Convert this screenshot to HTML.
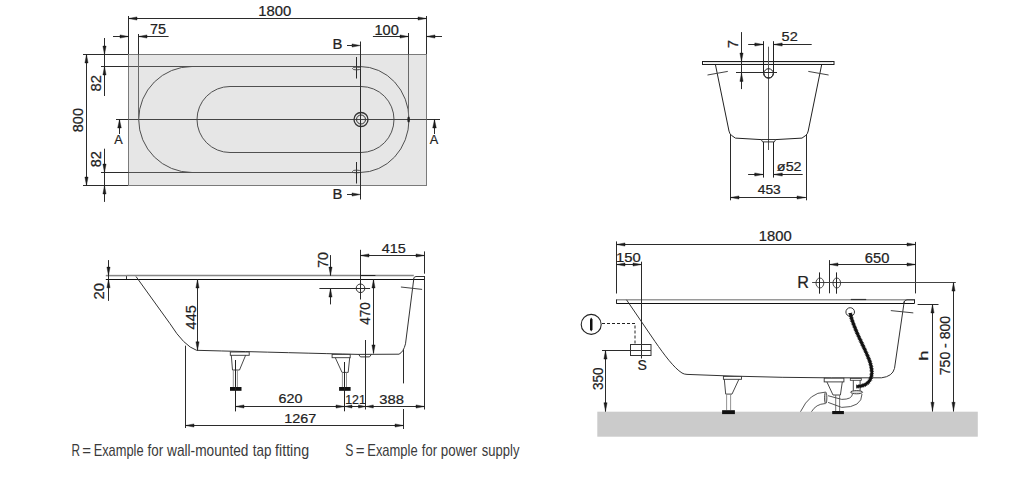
<!DOCTYPE html>
<html><head><meta charset="utf-8"><style>
html,body{margin:0;padding:0;background:#fff;}
svg{display:block;font-family:"Liberation Sans",sans-serif;font-kerning:none;}
</style></head><body>
<svg width="1024" height="488" viewBox="0 0 1024 488">
<rect width="1024" height="488" fill="#fff"/>
<rect x="128.5" y="54.5" width="298" height="131" fill="#e6e6e6" stroke="#7a7a7a" stroke-width="1" />
<path d="M128.5,66.5 L360,66.5 A49,53 0 0 1 409,119.5 A49,53 0 0 1 360,172.5 L128.5,172.5 M192,66.5 A53.3,53 0 0 0 138.7,119.5 A53.3,53 0 0 0 192,172.5" stroke="#505050" stroke-width="1" fill="none" />
<line x1="101" y1="66.5" x2="128.5" y2="66.5" stroke="#2b2b2b" stroke-width="1" />
<line x1="101" y1="172.5" x2="128.5" y2="172.5" stroke="#2b2b2b" stroke-width="1" />
<path d="M230,86.5 L361,86.5 A33,33 0 0 1 394,119.5 A33,33 0 0 1 361,152.5 L230,152.5 A33,33 0 0 1 197,119.5 A33,33 0 0 1 230,86.5 Z" stroke="#505050" stroke-width="1" fill="none" />
<line x1="129" y1="119.5" x2="426" y2="119.5" stroke="#444" stroke-width="1" />
<line x1="116" y1="119.5" x2="128.5" y2="119.5" stroke="#2b2b2b" stroke-width="1" />
<line x1="426.5" y1="119.5" x2="440" y2="119.5" stroke="#2b2b2b" stroke-width="1" />
<circle cx="361" cy="119.5" r="7" fill="none" stroke="#333" stroke-width="1.3"/>
<circle cx="361" cy="119.5" r="4.5" fill="none" stroke="#333" stroke-width="1"/>
<line x1="360.5" y1="41.5" x2="360.5" y2="199.5" stroke="#2b2b2b" stroke-width="1" />
<polygon points="360.50,45.50 352.00,43.90 352.00,47.10" fill="#1a1a1a" stroke="#1a1a1a" stroke-width="0.4" stroke-linejoin="round"/>
<line x1="347" y1="45.5" x2="354" y2="45.5" stroke="#2b2b2b" stroke-width="1" />
<polygon points="360.50,194.50 352.00,192.90 352.00,196.10" fill="#1a1a1a" stroke="#1a1a1a" stroke-width="0.4" stroke-linejoin="round"/>
<line x1="347" y1="194.5" x2="354" y2="194.5" stroke="#2b2b2b" stroke-width="1" />
<text x="332.48" y="49.30" font-size="14.10" fill="#222" stroke="#222" stroke-width="0.22" textLength="9.90" lengthAdjust="spacingAndGlyphs">B</text>
<text x="332.48" y="199.30" font-size="14.10" fill="#222" stroke="#222" stroke-width="0.22" textLength="9.90" lengthAdjust="spacingAndGlyphs">B</text>
<line x1="356.5" y1="57" x2="356.5" y2="78.5" stroke="#2b2b2b" stroke-width="1" />
<ellipse cx="356.5" cy="68.5" rx="4" ry="1.4" fill="none" stroke="#444" stroke-width="0.9"/>
<line x1="356.5" y1="162" x2="356.5" y2="183.5" stroke="#2b2b2b" stroke-width="1" />
<ellipse cx="356.5" cy="171.5" rx="4" ry="1.4" fill="none" stroke="#444" stroke-width="0.9"/>
<line x1="128.5" y1="16" x2="128.5" y2="54" stroke="#2b2b2b" stroke-width="1" />
<line x1="426.5" y1="16" x2="426.5" y2="54" stroke="#2b2b2b" stroke-width="1" />
<line x1="128.4" y1="18.5" x2="426.4" y2="18.5" stroke="#2b2b2b" stroke-width="1" />
<polygon points="128.50,18.50 137.00,16.90 137.00,20.10" fill="#1a1a1a" stroke="#1a1a1a" stroke-width="0.4" stroke-linejoin="round"/>
<polygon points="426.50,18.50 418.00,16.90 418.00,20.10" fill="#1a1a1a" stroke="#1a1a1a" stroke-width="0.4" stroke-linejoin="round"/>
<text x="258.19" y="15.66" font-size="14.27" fill="#222" stroke="#222" stroke-width="0.22" textLength="32.99" lengthAdjust="spacingAndGlyphs">1800</text>
<line x1="138.5" y1="34" x2="138.5" y2="54.5" stroke="#2b2b2b" stroke-width="1" />
<line x1="138.5" y1="55" x2="138.5" y2="119.5" stroke="#6a6a6a" stroke-width="1" />
<line x1="113" y1="36.5" x2="128.4" y2="36.5" stroke="#2b2b2b" stroke-width="1" />
<polygon points="128.50,36.50 120.00,34.90 120.00,38.10" fill="#1a1a1a" stroke="#1a1a1a" stroke-width="0.4" stroke-linejoin="round"/>
<line x1="138.7" y1="36.5" x2="168.6" y2="36.5" stroke="#2b2b2b" stroke-width="1" />
<polygon points="138.50,36.50 147.00,34.90 147.00,38.10" fill="#1a1a1a" stroke="#1a1a1a" stroke-width="0.4" stroke-linejoin="round"/>
<text x="150.06" y="33.67" font-size="13.76" fill="#222" stroke="#222" stroke-width="0.22" textLength="16.05" lengthAdjust="spacingAndGlyphs">75</text>
<line x1="408.5" y1="33" x2="408.5" y2="54.5" stroke="#2b2b2b" stroke-width="1" />
<line x1="408.5" y1="55" x2="408.5" y2="119.5" stroke="#6a6a6a" stroke-width="1" />
<ellipse cx="408.6" cy="119.5" rx="1.3" ry="3" fill="#222"/>
<line x1="372.9" y1="36.5" x2="408.4" y2="36.5" stroke="#2b2b2b" stroke-width="1" />
<polygon points="408.50,36.50 400.00,34.90 400.00,38.10" fill="#1a1a1a" stroke="#1a1a1a" stroke-width="0.4" stroke-linejoin="round"/>
<line x1="426.4" y1="36.5" x2="442" y2="36.5" stroke="#2b2b2b" stroke-width="1" />
<polygon points="426.50,36.50 435.00,34.90 435.00,38.10" fill="#1a1a1a" stroke="#1a1a1a" stroke-width="0.4" stroke-linejoin="round"/>
<text x="374.51" y="34.61" font-size="14.76" fill="#222" stroke="#222" stroke-width="0.22" textLength="24.36" lengthAdjust="spacingAndGlyphs">100</text>
<line x1="83" y1="54.5" x2="128" y2="54.5" stroke="#2b2b2b" stroke-width="1" />
<line x1="83" y1="185.5" x2="128" y2="185.5" stroke="#2b2b2b" stroke-width="1" />
<line x1="86.5" y1="54.5" x2="86.5" y2="185.5" stroke="#2b2b2b" stroke-width="1" />
<polygon points="86.50,54.50 84.90,63.00 88.10,63.00" fill="#1a1a1a" stroke="#1a1a1a" stroke-width="0.4" stroke-linejoin="round"/>
<polygon points="86.50,185.50 84.90,177.00 88.10,177.00" fill="#1a1a1a" stroke="#1a1a1a" stroke-width="0.4" stroke-linejoin="round"/>
<text transform="translate(83.36,132.23) rotate(-90)" x="0" y="0" font-size="14.69" fill="#222" stroke="#222" stroke-width="0.22" textLength="24.20" lengthAdjust="spacingAndGlyphs">800</text>
<line x1="104.5" y1="38" x2="104.5" y2="96" stroke="#2b2b2b" stroke-width="1" />
<polygon points="104.50,54.50 102.90,46.00 106.10,46.00" fill="#1a1a1a" stroke="#1a1a1a" stroke-width="0.4" stroke-linejoin="round"/>
<polygon points="104.50,66.50 102.90,75.00 106.10,75.00" fill="#1a1a1a" stroke="#1a1a1a" stroke-width="0.4" stroke-linejoin="round"/>
<text transform="translate(100.56,91.44) rotate(-90)" x="0" y="0" font-size="14.69" fill="#222" stroke="#222" stroke-width="0.22" textLength="16.49" lengthAdjust="spacingAndGlyphs">82</text>
<line x1="104.5" y1="148.7" x2="104.5" y2="201.9" stroke="#2b2b2b" stroke-width="1" />
<polygon points="104.50,172.50 102.90,164.00 106.10,164.00" fill="#1a1a1a" stroke="#1a1a1a" stroke-width="0.4" stroke-linejoin="round"/>
<polygon points="104.50,185.50 102.90,194.00 106.10,194.00" fill="#1a1a1a" stroke="#1a1a1a" stroke-width="0.4" stroke-linejoin="round"/>
<text transform="translate(100.65,167.23) rotate(-90)" x="0" y="0" font-size="15.40" fill="#222" stroke="#222" stroke-width="0.22" textLength="16.16" lengthAdjust="spacingAndGlyphs">82</text>
<line x1="119.5" y1="119.5" x2="119.5" y2="134" stroke="#2b2b2b" stroke-width="1" />
<polygon points="119.50,119.50 117.70,128.00 121.30,128.00" fill="#1a1a1a" stroke="#1a1a1a" stroke-width="0.4" stroke-linejoin="round"/>
<text x="114.28" y="143.50" font-size="12.65" fill="#222" stroke="#222" stroke-width="0.22" textLength="8.45" lengthAdjust="spacingAndGlyphs">A</text>
<line x1="434.5" y1="119.5" x2="434.5" y2="134" stroke="#2b2b2b" stroke-width="1" />
<polygon points="434.50,119.50 432.70,128.00 436.30,128.00" fill="#1a1a1a" stroke="#1a1a1a" stroke-width="0.4" stroke-linejoin="round"/>
<text x="429.78" y="143.50" font-size="12.65" fill="#222" stroke="#222" stroke-width="0.22" textLength="8.45" lengthAdjust="spacingAndGlyphs">A</text>
<rect x="702.5" y="61.5" width="131.5" height="3" fill="#fff" stroke="#1e1e1e" stroke-width="1" />
<line x1="704" y1="62.8" x2="832" y2="62.8" stroke="#d0d0d0" stroke-width="0.8" />
<path d="M715.5,65 L729,131.1 Q729.8,134.2 731.5,135.4 L735.4,138.1 L761.2,139.6 M775.5,139.6 L802,138.1 L805.8,135.4 Q807.5,134.2 808.2,131 L821.6,65" stroke="#222" stroke-width="1" fill="none" />
<line x1="707.5" y1="75" x2="727.8" y2="71.4" stroke="#444" stroke-width="1" />
<line x1="808.3" y1="71.4" x2="828.6" y2="75" stroke="#444" stroke-width="1" />
<line x1="768.5" y1="46.7" x2="768.5" y2="150" stroke="#555" stroke-width="1" />
<path d="M763.5,41.2 L763.5,73.2 A5,5 0 0 0 773.5,73.2 L773.5,41.2" stroke="#222" stroke-width="1" fill="none" />
<circle cx="768.6" cy="73.3" r="4.6" fill="none" stroke="#222" stroke-width="1"/>
<line x1="748.2" y1="44.5" x2="763.5" y2="44.5" stroke="#2b2b2b" stroke-width="1" />
<polygon points="763.30,44.50 754.80,42.90 754.80,46.10" fill="#1a1a1a" stroke="#1a1a1a" stroke-width="0.4" stroke-linejoin="round"/>
<line x1="773.5" y1="44.5" x2="811.7" y2="44.5" stroke="#2b2b2b" stroke-width="1" />
<polygon points="773.70,44.50 782.20,42.90 782.20,46.10" fill="#1a1a1a" stroke="#1a1a1a" stroke-width="0.4" stroke-linejoin="round"/>
<text x="781.62" y="40.67" font-size="13.70" fill="#222" stroke="#222" stroke-width="0.22" textLength="16.11" lengthAdjust="spacingAndGlyphs">52</text>
<line x1="741.5" y1="32.1" x2="741.5" y2="89.1" stroke="#2b2b2b" stroke-width="1" />
<polygon points="741.50,61.50 739.90,53.00 743.10,53.00" fill="#1a1a1a" stroke="#1a1a1a" stroke-width="0.4" stroke-linejoin="round"/>
<polygon points="741.50,72.90 739.90,81.40 743.10,81.40" fill="#1a1a1a" stroke="#1a1a1a" stroke-width="0.4" stroke-linejoin="round"/>
<line x1="736" y1="72.5" x2="777" y2="72.5" stroke="#2b2b2b" stroke-width="1" />
<text transform="translate(738.40,48.26) rotate(-90)" x="0" y="0" font-size="14.75" fill="#222" stroke="#222" stroke-width="0.22" textLength="8.20" lengthAdjust="spacingAndGlyphs">7</text>
<path d="M761.2,139.5 L775.7,139.5 L774.3,141.9 L762.6,141.9 Z" stroke="#222" stroke-width="0.9" fill="none" />
<line x1="763.5" y1="142" x2="763.5" y2="177.6" stroke="#222" stroke-width="1" />
<line x1="773.5" y1="142" x2="773.5" y2="177.6" stroke="#222" stroke-width="1" />
<line x1="748.1" y1="174.5" x2="763.6" y2="174.5" stroke="#2b2b2b" stroke-width="1" />
<polygon points="763.20,174.50 754.70,172.90 754.70,176.10" fill="#1a1a1a" stroke="#1a1a1a" stroke-width="0.4" stroke-linejoin="round"/>
<line x1="773.2" y1="174.5" x2="802.7" y2="174.5" stroke="#2b2b2b" stroke-width="1" />
<polygon points="773.80,174.50 782.30,172.90 782.30,176.10" fill="#1a1a1a" stroke="#1a1a1a" stroke-width="0.4" stroke-linejoin="round"/>
<text x="776.89" y="170.66" font-size="13.11" fill="#222" stroke="#222" stroke-width="0.22" textLength="24.73" lengthAdjust="spacingAndGlyphs">ø52</text>
<line x1="730.5" y1="134" x2="730.5" y2="200.3" stroke="#2b2b2b" stroke-width="1" />
<line x1="806.5" y1="134" x2="806.5" y2="200.3" stroke="#2b2b2b" stroke-width="1" />
<line x1="730.6" y1="197.5" x2="805.8" y2="197.5" stroke="#2b2b2b" stroke-width="1" />
<polygon points="730.50,197.50 739.00,195.90 739.00,199.10" fill="#1a1a1a" stroke="#1a1a1a" stroke-width="0.4" stroke-linejoin="round"/>
<polygon points="805.50,197.50 797.00,195.90 797.00,199.10" fill="#1a1a1a" stroke="#1a1a1a" stroke-width="0.4" stroke-linejoin="round"/>
<text x="757.78" y="193.57" font-size="13.70" fill="#222" stroke="#222" stroke-width="0.22" textLength="23.02" lengthAdjust="spacingAndGlyphs">453</text>
<line x1="105.8" y1="275.6" x2="126.2" y2="275.6" stroke="#858585" stroke-width="1.5" />
<line x1="126.5" y1="275.6" x2="126.5" y2="279.3" stroke="#333" stroke-width="1" />
<line x1="126.2" y1="275.6" x2="413.8" y2="275.6" stroke="#858585" stroke-width="1.5" />
<path d="M413.6,279 Q413.8,276.5 416,276.5 L424.8,276.5" stroke="#333" stroke-width="1" fill="none" />
<line x1="105.8" y1="279.5" x2="424.8" y2="279.5" stroke="#111" stroke-width="1" />
<path d="M136,276.5 L170,323.7 Q184,346 196.6,350.3 Q300,353 358,354.4 L399,354.2 Q403.5,352 405.5,343.8 L413.8,278.8" stroke="#333" stroke-width="1" fill="none" />
<line x1="400.9" y1="287" x2="422.1" y2="289.4" stroke="#444" stroke-width="1" />
<line x1="108.5" y1="260.1" x2="108.5" y2="300.9" stroke="#2b2b2b" stroke-width="1" />
<polygon points="108.50,275.60 106.90,267.10 110.10,267.10" fill="#1a1a1a" stroke="#1a1a1a" stroke-width="0.4" stroke-linejoin="round"/>
<polygon points="108.50,279.30 106.90,287.80 110.10,287.80" fill="#1a1a1a" stroke="#1a1a1a" stroke-width="0.4" stroke-linejoin="round"/>
<text transform="translate(103.76,299.44) rotate(-90)" x="0" y="0" font-size="13.84" fill="#222" stroke="#222" stroke-width="0.22" textLength="16.42" lengthAdjust="spacingAndGlyphs">20</text>
<line x1="197.5" y1="279.3" x2="197.5" y2="350.3" stroke="#2b2b2b" stroke-width="1" />
<polygon points="197.50,279.50 195.90,288.00 199.10,288.00" fill="#1a1a1a" stroke="#1a1a1a" stroke-width="0.4" stroke-linejoin="round"/>
<polygon points="197.50,350.30 195.90,341.80 199.10,341.80" fill="#1a1a1a" stroke="#1a1a1a" stroke-width="0.4" stroke-linejoin="round"/>
<text transform="translate(195.55,329.43) rotate(-90)" x="0" y="0" font-size="14.90" fill="#222" stroke="#222" stroke-width="0.22" textLength="24.24" lengthAdjust="spacingAndGlyphs">445</text>
<line x1="330.5" y1="255.1" x2="330.5" y2="275.6" stroke="#2b2b2b" stroke-width="1" />
<polygon points="330.50,275.60 328.90,267.10 332.10,267.10" fill="#1a1a1a" stroke="#1a1a1a" stroke-width="0.4" stroke-linejoin="round"/>
<line x1="330.5" y1="288.6" x2="330.5" y2="304.4" stroke="#2b2b2b" stroke-width="1" />
<polygon points="330.50,288.60 328.90,297.10 332.10,297.10" fill="#1a1a1a" stroke="#1a1a1a" stroke-width="0.4" stroke-linejoin="round"/>
<line x1="319.4" y1="288.5" x2="370.1" y2="288.5" stroke="#2b2b2b" stroke-width="1" />
<text transform="translate(327.96,268.03) rotate(-90)" x="0" y="0" font-size="14.83" fill="#222" stroke="#222" stroke-width="0.22" textLength="15.89" lengthAdjust="spacingAndGlyphs">70</text>
<circle cx="360.5" cy="288.3" r="4.3" fill="none" stroke="#333" stroke-width="1"/>
<line x1="360.5" y1="249.8" x2="360.5" y2="299.5" stroke="#2b2b2b" stroke-width="1" />
<line x1="424.5" y1="251.4" x2="424.5" y2="273.7" stroke="#2b2b2b" stroke-width="1" />
<line x1="424.5" y1="276" x2="424.5" y2="409.5" stroke="#2b2b2b" stroke-width="1" />
<line x1="360.6" y1="255.5" x2="424.8" y2="255.5" stroke="#2b2b2b" stroke-width="1" />
<polygon points="360.50,255.50 369.00,253.90 369.00,257.10" fill="#1a1a1a" stroke="#1a1a1a" stroke-width="0.4" stroke-linejoin="round"/>
<polygon points="424.50,255.50 416.00,253.90 416.00,257.10" fill="#1a1a1a" stroke="#1a1a1a" stroke-width="0.4" stroke-linejoin="round"/>
<text x="381.77" y="253.07" font-size="13.33" fill="#222" stroke="#222" stroke-width="0.22" textLength="24.04" lengthAdjust="spacingAndGlyphs">415</text>
<line x1="360.6" y1="275.5" x2="375.4" y2="275.5" stroke="#222" stroke-width="1" />
<line x1="373.5" y1="279.3" x2="373.5" y2="353.4" stroke="#2b2b2b" stroke-width="1" />
<polygon points="373.50,279.50 371.90,288.00 375.10,288.00" fill="#1a1a1a" stroke="#1a1a1a" stroke-width="0.4" stroke-linejoin="round"/>
<polygon points="373.50,353.40 371.90,344.90 375.10,344.90" fill="#1a1a1a" stroke="#1a1a1a" stroke-width="0.4" stroke-linejoin="round"/>
<text transform="translate(370.16,324.81) rotate(-90)" x="0" y="0" font-size="14.27" fill="#222" stroke="#222" stroke-width="0.22" textLength="22.54" lengthAdjust="spacingAndGlyphs">470</text>
<path d="M358.6,354.4 L360.5,356.9 L369.5,356.9 L371.4,354.4" stroke="#333" stroke-width="1" fill="none" />
<line x1="365.5" y1="340" x2="365.5" y2="409.5" stroke="#2b2b2b" stroke-width="1" />
<rect x="230.3" y="352" width="18.900000000000006" height="3.3" fill="#fff" stroke="#333" stroke-width="0.9" />
<path d="M231.3,355.3 L232.5,370 L239.5,370 L245.6,355.3" stroke="#333" stroke-width="0.9" fill="none" />
<line x1="233.3" y1="370" x2="233.3" y2="387" stroke="#888" stroke-width="0.9" />
<line x1="237.4" y1="370" x2="237.4" y2="387" stroke="#888" stroke-width="0.9" />
<rect x="230.0" y="387" width="11.5" height="3.8" fill="#111" stroke="none" stroke-width="1" />
<rect x="332.1" y="354.4" width="18.099999999999966" height="3.3" fill="#fff" stroke="#333" stroke-width="0.9" />
<path d="M335.3,357.7 L342.0,372.4 L348.2,372.4 L349.7,357.7" stroke="#333" stroke-width="0.9" fill="none" />
<line x1="342.4" y1="372.4" x2="342.4" y2="387" stroke="#888" stroke-width="0.9" />
<line x1="346.5" y1="372.4" x2="346.5" y2="387" stroke="#888" stroke-width="0.9" />
<rect x="339.1" y="387" width="11.5" height="3.8" fill="#111" stroke="none" stroke-width="1" />
<line x1="235.5" y1="360" x2="235.5" y2="411.4" stroke="#222" stroke-width="1" />
<line x1="344.5" y1="362" x2="344.5" y2="411.3" stroke="#222" stroke-width="1" />
<line x1="235.4" y1="406.5" x2="424.2" y2="406.5" stroke="#2b2b2b" stroke-width="1" />
<polygon points="235.50,406.50 244.00,404.90 244.00,408.10" fill="#1a1a1a" stroke="#1a1a1a" stroke-width="0.4" stroke-linejoin="round"/>
<polygon points="344.50,406.50 336.00,404.90 336.00,408.10" fill="#1a1a1a" stroke="#1a1a1a" stroke-width="0.4" stroke-linejoin="round"/>
<polygon points="345.00,406.50 352.00,404.90 352.00,408.10" fill="#1a1a1a" stroke="#1a1a1a" stroke-width="0.4" stroke-linejoin="round"/>
<polygon points="365.50,406.50 358.50,404.90 358.50,408.10" fill="#1a1a1a" stroke="#1a1a1a" stroke-width="0.4" stroke-linejoin="round"/>
<polygon points="366.30,406.50 373.30,404.90 373.30,408.10" fill="#1a1a1a" stroke="#1a1a1a" stroke-width="0.4" stroke-linejoin="round"/>
<polygon points="424.50,406.50 416.00,404.90 416.00,408.10" fill="#1a1a1a" stroke="#1a1a1a" stroke-width="0.4" stroke-linejoin="round"/>
<text x="278.57" y="403.47" font-size="12.99" fill="#222" stroke="#222" stroke-width="0.22" textLength="23.89" lengthAdjust="spacingAndGlyphs">620</text>
<text x="345.26" y="403.70" font-size="13.32" fill="#222" stroke="#222" stroke-width="0.22" textLength="20.59" lengthAdjust="spacingAndGlyphs">121</text>
<text x="379.24" y="403.57" font-size="13.14" fill="#222" stroke="#222" stroke-width="0.22" textLength="24.60" lengthAdjust="spacingAndGlyphs">388</text>
<line x1="185.5" y1="345.7" x2="185.5" y2="428" stroke="#2b2b2b" stroke-width="1" />
<line x1="403.5" y1="349.5" x2="403.5" y2="383.4" stroke="#2b2b2b" stroke-width="1" />
<line x1="403.5" y1="409" x2="403.5" y2="429" stroke="#2b2b2b" stroke-width="1" />
<line x1="185.9" y1="425.5" x2="403.4" y2="425.5" stroke="#2b2b2b" stroke-width="1" />
<polygon points="185.50,425.50 194.00,423.90 194.00,427.10" fill="#1a1a1a" stroke="#1a1a1a" stroke-width="0.4" stroke-linejoin="round"/>
<polygon points="403.50,425.50 395.00,423.90 395.00,427.10" fill="#1a1a1a" stroke="#1a1a1a" stroke-width="0.4" stroke-linejoin="round"/>
<text x="284.23" y="422.67" font-size="12.85" fill="#222" stroke="#222" stroke-width="0.22" textLength="31.99" lengthAdjust="spacingAndGlyphs">1267</text>
<rect x="597.3" y="411.7" width="380.5" height="25" fill="#cbcbcb" stroke="none" stroke-width="1" />
<line x1="616.3" y1="299.8" x2="914.4" y2="299.8" stroke="#9a9a9a" stroke-width="1.6" />
<line x1="616.3" y1="303.5" x2="914.4" y2="303.5" stroke="#111" stroke-width="1.1" />
<line x1="616.5" y1="299.5" x2="616.5" y2="303.5" stroke="#222" stroke-width="1" />
<line x1="914.5" y1="299.3" x2="914.5" y2="303.6" stroke="#222" stroke-width="1" />
<line x1="850.8" y1="299.5" x2="866.2" y2="299.5" stroke="#333" stroke-width="1.2" />
<path d="M903.8,303 Q904.5,299.8 907,299.8 L914.4,299.8" stroke="#333" stroke-width="1" fill="none" />
<path d="M626.5,299.8 L655,341.5 C664,354.5 674,368 682,373 Q684,374.3 687,374.4 Q780,378.5 881.5,377.8 Q892.5,376.5 894.5,368.4 L904.3,301" stroke="#333" stroke-width="1" fill="none" />
<line x1="890.8" y1="310.6" x2="913.3" y2="312.9" stroke="#444" stroke-width="1" />
<line x1="616.5" y1="241.4" x2="616.5" y2="293.5" stroke="#2b2b2b" stroke-width="1" />
<line x1="915.5" y1="241.9" x2="915.5" y2="293.4" stroke="#2b2b2b" stroke-width="1" />
<line x1="616.6" y1="244.5" x2="915.3" y2="244.5" stroke="#2b2b2b" stroke-width="1" />
<polygon points="616.50,244.50 625.00,242.90 625.00,246.10" fill="#1a1a1a" stroke="#1a1a1a" stroke-width="0.4" stroke-linejoin="round"/>
<polygon points="915.50,244.50 907.00,242.90 907.00,246.10" fill="#1a1a1a" stroke="#1a1a1a" stroke-width="0.4" stroke-linejoin="round"/>
<text x="758.79" y="240.86" font-size="14.55" fill="#222" stroke="#222" stroke-width="0.22" textLength="32.89" lengthAdjust="spacingAndGlyphs">1800</text>
<line x1="641.5" y1="261.7" x2="641.5" y2="358.5" stroke="#2b2b2b" stroke-width="1" />
<line x1="616.6" y1="264.5" x2="641" y2="264.5" stroke="#2b2b2b" stroke-width="1" />
<polygon points="616.50,264.50 625.00,262.90 625.00,266.10" fill="#1a1a1a" stroke="#1a1a1a" stroke-width="0.4" stroke-linejoin="round"/>
<polygon points="641.50,264.50 633.00,262.90 633.00,266.10" fill="#1a1a1a" stroke="#1a1a1a" stroke-width="0.4" stroke-linejoin="round"/>
<text x="616.09" y="261.77" font-size="13.70" fill="#222" stroke="#222" stroke-width="0.22" textLength="24.69" lengthAdjust="spacingAndGlyphs">150</text>
<line x1="829.5" y1="260.1" x2="829.5" y2="293.3" stroke="#2b2b2b" stroke-width="1" />
<line x1="829.4" y1="264.5" x2="915.3" y2="264.5" stroke="#2b2b2b" stroke-width="1" />
<polygon points="829.50,264.50 838.00,262.90 838.00,266.10" fill="#1a1a1a" stroke="#1a1a1a" stroke-width="0.4" stroke-linejoin="round"/>
<polygon points="915.50,264.50 907.00,262.90 907.00,266.10" fill="#1a1a1a" stroke="#1a1a1a" stroke-width="0.4" stroke-linejoin="round"/>
<text x="864.85" y="262.96" font-size="14.41" fill="#222" stroke="#222" stroke-width="0.22" textLength="24.52" lengthAdjust="spacingAndGlyphs">650</text>
<line x1="812.1" y1="282.5" x2="955.8" y2="282.5" stroke="#444" stroke-width="1" />
<line x1="819.5" y1="272.4" x2="819.5" y2="293.7" stroke="#222" stroke-width="1" />
<ellipse cx="819.9" cy="283" rx="3.9" ry="5" fill="none" stroke="#333" stroke-width="0.9"/>
<line x1="836.5" y1="272.4" x2="836.5" y2="293.7" stroke="#222" stroke-width="1" />
<ellipse cx="836.8" cy="283" rx="3.8" ry="5" fill="none" stroke="#333" stroke-width="0.9"/>
<text x="797.27" y="287.80" font-size="17.01" fill="#222" stroke="#222" stroke-width="0.22" textLength="11.68" lengthAdjust="spacingAndGlyphs">R</text>
<line x1="917.6" y1="304.5" x2="938.5" y2="304.5" stroke="#2b2b2b" stroke-width="1" />
<line x1="932.5" y1="304.5" x2="932.5" y2="411.6" stroke="#2b2b2b" stroke-width="1" />
<polygon points="932.50,304.50 930.90,313.00 934.10,313.00" fill="#1a1a1a" stroke="#1a1a1a" stroke-width="0.4" stroke-linejoin="round"/>
<polygon points="932.50,410.80 930.90,402.30 934.10,402.30" fill="#1a1a1a" stroke="#1a1a1a" stroke-width="0.4" stroke-linejoin="round"/>
<text transform="translate(928.20,360.68) rotate(-90)" x="0" y="0" font-size="12.28" fill="#222" stroke="#222" stroke-width="0.22" textLength="10.28" lengthAdjust="spacingAndGlyphs">h</text>
<line x1="953.5" y1="282.6" x2="953.5" y2="411.6" stroke="#2b2b2b" stroke-width="1" />
<polygon points="953.50,282.60 951.90,291.10 955.10,291.10" fill="#1a1a1a" stroke="#1a1a1a" stroke-width="0.4" stroke-linejoin="round"/>
<polygon points="953.50,410.80 951.90,402.30 955.10,402.30" fill="#1a1a1a" stroke="#1a1a1a" stroke-width="0.4" stroke-linejoin="round"/>
<text transform="translate(949.56,375.22) rotate(-90)" x="0" y="0" font-size="14.55" fill="#222" stroke="#222" stroke-width="0.22" textLength="59.37" lengthAdjust="spacingAndGlyphs">750 - 800</text>
<circle cx="591.2" cy="324.4" r="10" fill="none" stroke="#222" stroke-width="1.1"/>
<path d="M591.2,317.6 L592.5,319.5 L592.5,329.6 L591.2,331.5 L590,329.6 L590,319.5 Z" fill="#111"/>
<path d="M602,323.5 L635,323.5 L635,345" stroke="#222" stroke-width="1" fill="none" stroke-dasharray="3,2"/>
<rect x="630.5" y="344.5" width="20.5" height="11" fill="none" stroke="#333" stroke-width="1" />
<line x1="630.2" y1="350.5" x2="651" y2="350.5" stroke="#333" stroke-width="1" />
<line x1="602" y1="350.5" x2="630.2" y2="350.5" stroke="#2b2b2b" stroke-width="1" />
<line x1="605.5" y1="350.6" x2="605.5" y2="411.7" stroke="#2b2b2b" stroke-width="1" />
<polygon points="605.50,350.60 603.90,359.10 607.10,359.10" fill="#1a1a1a" stroke="#1a1a1a" stroke-width="0.4" stroke-linejoin="round"/>
<polygon points="605.50,411.20 603.90,402.70 607.10,402.70" fill="#1a1a1a" stroke="#1a1a1a" stroke-width="0.4" stroke-linejoin="round"/>
<text transform="translate(603.46,390.01) rotate(-90)" x="0" y="0" font-size="14.27" fill="#222" stroke="#222" stroke-width="0.22" textLength="22.54" lengthAdjust="spacingAndGlyphs">350</text>
<text x="637.46" y="370.05" font-size="15.54" fill="#222" stroke="#222" stroke-width="0.22" textLength="9.38" lengthAdjust="spacingAndGlyphs">S</text>
<rect x="723.4" y="376.4" width="18.1" height="2.9" fill="#fff" stroke="#333" stroke-width="0.9" />
<path d="M724.3,379.3 L725.7,394.1 L732,394.1 L738.9,379.3" stroke="#333" stroke-width="0.9" fill="none" />
<line x1="726.6" y1="394" x2="726.6" y2="410.2" stroke="#888" stroke-width="0.9" />
<line x1="730.6" y1="394" x2="730.6" y2="410.2" stroke="#888" stroke-width="0.9" />
<rect x="722.1" y="410.2" width="12.8" height="3.9" fill="#111" stroke="none" stroke-width="1" />
<rect x="824.2" y="378.2" width="19.7" height="3.7" fill="#fff" stroke="#333" stroke-width="0.9" />
<path d="M826.9,381.9 L833,395 L840.4,395 L842.3,381.9" stroke="#333" stroke-width="0.9" fill="none" />
<line x1="835.7" y1="395" x2="835.7" y2="411" stroke="#666" stroke-width="0.9" />
<line x1="839.6" y1="395" x2="839.6" y2="411" stroke="#666" stroke-width="0.9" />
<rect x="832.2" y="411" width="11.7" height="3.1" fill="#111" stroke="none" stroke-width="1" />
<rect x="850.3" y="378.5" width="11" height="1.8" fill="#fff" stroke="#333" stroke-width="0.8" />
<line x1="853.3" y1="380.3" x2="853.3" y2="390.8" stroke="#333" stroke-width="0.9" />
<line x1="860.1" y1="380.3" x2="860.1" y2="390.8" stroke="#333" stroke-width="0.9" />
<ellipse cx="856.6" cy="392.2" rx="6" ry="1.6" fill="#ddd" stroke="#333" stroke-width="0.9"/>
<path d="M862,394 Q862,407.4 841.7,407.4 L828.1,402.4" stroke="#444" stroke-width="0.9" fill="none" />
<path d="M852.5,394 Q852,399.4 841.7,399.4 L828,395.7" stroke="#444" stroke-width="0.9" fill="none" />
<ellipse cx="825.7" cy="397.8" rx="1.2" ry="5.8" fill="#ccc" stroke="#333" stroke-width="0.8"/>
<path d="M825,392.2 Q810,392 800.5,411.7" stroke="#444" stroke-width="0.9" fill="none" />
<path d="M825,403.6 Q816,404 811.5,411.7" stroke="#444" stroke-width="0.9" fill="none" />
<circle cx="850.2" cy="312" r="4.3" fill="none" stroke="#333" stroke-width="1"/>
<path d="M850.3,313 C852,326 866,350 870,362 C874,375 872,386 856.4,386.6" stroke="#222" stroke-width="4.2" fill="none" stroke-dasharray="0.7,0.9"/>
<path d="M850.3,313 C852,326 866,350 870,362 C874,375 872,386 856.4,386.6" stroke="#111" stroke-width="2.8" fill="none" />
<text x="71.53" y="455.7" font-size="17.0" fill="#3a3a3a" stroke="#3a3a3a" stroke-width="0" textLength="8.51" lengthAdjust="spacingAndGlyphs">R</text>
<text x="82.27" y="455.7" font-size="17.0" fill="#3a3a3a" stroke="#3a3a3a" stroke-width="0" textLength="8.77" lengthAdjust="spacingAndGlyphs">=</text>
<text x="93.65" y="455.7" font-size="17.0" fill="#3a3a3a" stroke="#3a3a3a" stroke-width="0" textLength="49.92" lengthAdjust="spacingAndGlyphs">Example</text>
<text x="147.51" y="455.7" font-size="17.0" fill="#3a3a3a" stroke="#3a3a3a" stroke-width="0" textLength="15.61" lengthAdjust="spacingAndGlyphs">for</text>
<text x="167.02" y="455.7" font-size="17.0" fill="#3a3a3a" stroke="#3a3a3a" stroke-width="0" textLength="81.46" lengthAdjust="spacingAndGlyphs">wall-mounted</text>
<text x="252.80" y="455.7" font-size="17.0" fill="#3a3a3a" stroke="#3a3a3a" stroke-width="0" textLength="18.67" lengthAdjust="spacingAndGlyphs">tap</text>
<text x="275.10" y="455.7" font-size="17.0" fill="#3a3a3a" stroke="#3a3a3a" stroke-width="0" textLength="34.02" lengthAdjust="spacingAndGlyphs">fitting</text>
<text x="345.35" y="455.7" font-size="17.0" fill="#3a3a3a" stroke="#3a3a3a" stroke-width="0" textLength="8.11" lengthAdjust="spacingAndGlyphs">S</text>
<text x="355.87" y="455.7" font-size="17.0" fill="#3a3a3a" stroke="#3a3a3a" stroke-width="0" textLength="8.77" lengthAdjust="spacingAndGlyphs">=</text>
<text x="367.24" y="455.7" font-size="17.0" fill="#3a3a3a" stroke="#3a3a3a" stroke-width="0" textLength="50.44" lengthAdjust="spacingAndGlyphs">Example</text>
<text x="421.82" y="455.7" font-size="17.0" fill="#3a3a3a" stroke="#3a3a3a" stroke-width="0" textLength="15.20" lengthAdjust="spacingAndGlyphs">for</text>
<text x="440.84" y="455.7" font-size="17.0" fill="#3a3a3a" stroke="#3a3a3a" stroke-width="0" textLength="36.28" lengthAdjust="spacingAndGlyphs">power</text>
<text x="481.84" y="455.7" font-size="17.0" fill="#3a3a3a" stroke="#3a3a3a" stroke-width="0" textLength="37.59" lengthAdjust="spacingAndGlyphs">supply</text>
</svg>
</body></html>
